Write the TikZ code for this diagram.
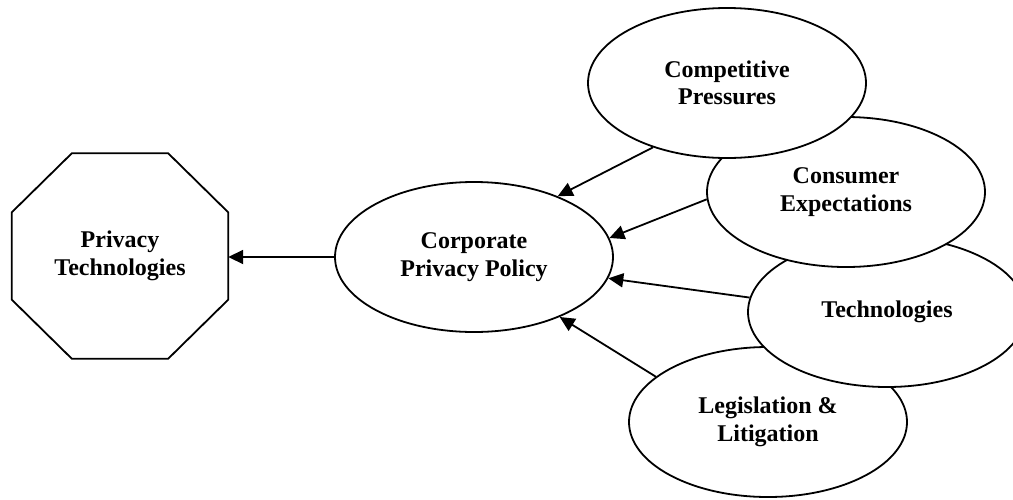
\documentclass[tikz,border=0pt]{standalone}
\usepackage{fontspec}
\setmainfont{Liberation Serif}
\usetikzlibrary{shapes.geometric,arrows.meta,calc}
\begin{document}
\begin{tikzpicture}[x=1pt,y=-1pt,
  every node/.style={font=\fontsize{24}{27.5}\selectfont\bfseries, align=center},
  factor/.style={ellipse, draw, fill=white, line width=1.8pt,
    minimum width=278pt, minimum height=150pt, inner sep=0pt},
  edge/.style={line width=1.8pt},
  link/.style={edge, -{Triangle[length=15pt,width=14pt]}}]
\clip (0,0) rectangle (1013,499);

% outcome: octagon around the text node
\node[minimum width=216pt, minimum height=205pt, inner sep=0pt] (priv) at (120,256) {Privacy\\Technologies};
\draw[edge] ($(priv.north west)+(60,0)$) -- ($(priv.north east)+(-60,0)$)
  -- ($(priv.north east)+(0,59)$) -- ($(priv.south east)+(0,-59)$)
  -- ($(priv.south east)+(-60,0)$) -- ($(priv.south west)+(60,0)$)
  -- ($(priv.south west)+(0,-59)$) -- ($(priv.north west)+(0,59)$) -- cycle;

% central policy
\node[factor] (corp) at (474,257) {Corporate\\Privacy Policy};

% influencing factors (later ones lie on top)
\node[factor] (leg)  at (768,422) {Legislation \&\\Litigation};
\node[factor] (tech) at (887,312) {Technologies};
\node[factor] (cons) at (846,192) {Consumer\\Expectations};
\node[factor] (comp) at (727,83)  {Competitive\\Pressures};

% connectors
\draw[link] (corp.west) -- (corp.west -| priv.east);
\draw[link] (comp.221) -- (corp.36);
\draw[link] (cons.183) -- (corp.8);
\draw[link] (tech.174) -- (corp.-9);
\draw[link] (leg.158)  -- (corp.-35);
\end{tikzpicture}
\end{document}
